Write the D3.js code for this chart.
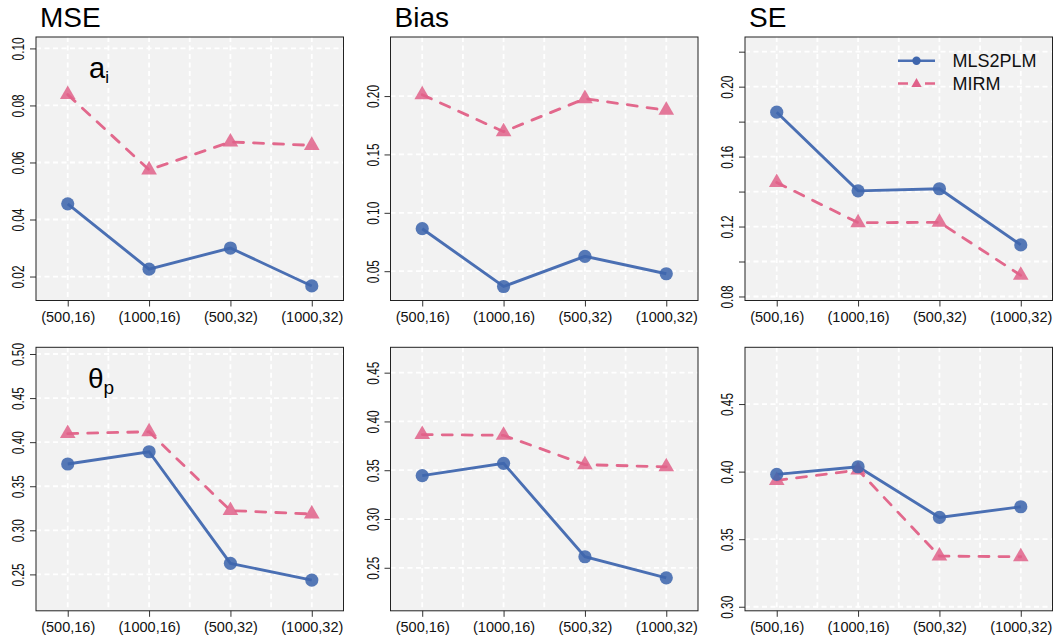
<!DOCTYPE html>
<html>
<head>
<meta charset="utf-8">
<script src="https://cdn.jsdelivr.net/npm/d3@7"></script>
<style>
  body { margin: 0; background: #fff; }
  svg { display: block; font-family: "Liberation Sans", Arial, Helvetica, sans-serif; }
  .tick-label { font-size: 14.5px; fill: #111; }
  .title { font-size: 28px; fill: #000; }
</style>
</head>
<body>
<div id="wrapper"></div>
<script>
// 1. data
const categories = ["(500,16)", "(1000,16)", "(500,32)", "(1000,32)"];
const seriesNames = ["MLS2PLM", "MIRM"];

// item discrimination a_i
const mseA_mls = [0.0455, 0.0226, 0.0300, 0.0167];
const mseA_mirm = [0.0838, 0.0574, 0.0672, 0.0660];
const biasA_mls = [0.0864, 0.0369, 0.0627, 0.0478];
const biasA_mirm = [0.2012, 0.1695, 0.1978, 0.1878];
const seA_mls = [0.1854, 0.1404, 0.1416, 0.1095];
const seA_mirm = [0.1452, 0.1222, 0.1224, 0.0921];

// person ability theta_p
const mseT_mls = [0.3752, 0.3891, 0.2625, 0.2435];
const mseT_mirm = [0.4097, 0.4118, 0.3224, 0.3185];
const biasT_mls = [0.3444, 0.3571, 0.2613, 0.2397];
const biasT_mirm = [0.3865, 0.3858, 0.3557, 0.3535];
const seT_mls = [0.3980, 0.4036, 0.3661, 0.3740];
const seT_mirm = [0.3935, 0.4012, 0.3375, 0.3370];

// y ticks (all get grid lines) and the ones that carry a label
const mseA_ticks = [0.02, 0.04, 0.06, 0.08, 0.10];
const biasA_ticks = [0.05, 0.10, 0.15, 0.20];
const seA_ticks = [0.08, 0.10, 0.12, 0.14, 0.16, 0.18, 0.20, 0.22];
const seA_labels = [0.08, 0.12, 0.16, 0.20];
const mseT_ticks = [0.25, 0.30, 0.35, 0.40, 0.45, 0.50];
const biasT_ticks = [0.25, 0.30, 0.35, 0.40, 0.45];
const seT_ticks = [0.30, 0.35, 0.40, 0.45];

const panels = [
  { row: 0, col: 0, title: "MSE", mls: mseA_mls, mirm: mseA_mirm, domain: [0.0116, 0.1040], ticks: mseA_ticks },
  { row: 0, col: 1, title: "Bias", mls: biasA_mls, mirm: biasA_mirm, domain: [0.0249, 0.2506], ticks: biasA_ticks },
  { row: 0, col: 2, title: "SE", mls: seA_mls, mirm: seA_mirm, domain: [0.0777, 0.2284], ticks: seA_ticks, labels: seA_labels, legend: true },
  { row: 1, col: 0, mls: mseT_mls, mirm: mseT_mirm, domain: [0.2087, 0.5076], ticks: mseT_ticks },
  { row: 1, col: 1, mls: biasT_mls, mirm: biasT_mirm, domain: [0.2059, 0.4760], ticks: biasT_ticks },
  { row: 1, col: 2, mls: seT_mls, mirm: seT_mirm, domain: [0.2970, 0.4920], ticks: seT_ticks },
];

// 2. dimensions
const dimensions = {
  width: 1061,
  height: 641,
  panelWidth: 307.5,
  panelHeight: 263.5,
  colStep: 354.5,
  left0: 36,
  tops: [37, 347.3],
};

const blue = "#4a6fb3";
const pink = "#e2688c";

// 3. draw canvas
const svg = d3.select("#wrapper").append("svg")
  .attr("width", dimensions.width)
  .attr("height", dimensions.height);

// R-style pch 17 triangle centred on its circumcentre
const trianglePath = (cx, cy, s) => {
  const r = 1.5551 * s, xc = 1.3468 * s, yc = 0.7776 * s;
  return `M${cx},${cy - r}L${cx + xc},${cy + yc}L${cx - xc},${cy + yc}Z`;
};

panels.forEach(p => {
  const left = dimensions.left0 + p.col * dimensions.colStep;
  const top = dimensions.tops[p.row];
  const w = dimensions.panelWidth, h = dimensions.panelHeight;

  const g = svg.append("g").attr("transform", `translate(${left},${top})`);

  // 4. scales
  const x = d3.scaleLinear().domain([0.61, 4.39]).range([0, w]);
  const y = d3.scaleLinear().domain(p.domain).range([h, 0]);

  g.append("rect")
    .attr("width", w).attr("height", h)
    .attr("fill", "#f2f2f2");

  // grid
  g.selectAll(".vgrid")
    .data(d3.range(1, 4.01, 0.5))
    .enter().append("line")
    .attr("x1", d => x(d)).attr("x2", d => x(d))
    .attr("y1", 0).attr("y2", h)
    .attr("stroke", "#fff").attr("stroke-width", 1.8)
    .attr("stroke-dasharray", "5,3.5");

  g.selectAll(".hgrid")
    .data(p.ticks)
    .enter().append("line")
    .attr("x1", 0).attr("x2", w)
    .attr("y1", d => y(d)).attr("y2", d => y(d))
    .attr("stroke", "#fff").attr("stroke-width", 1.8)
    .attr("stroke-dasharray", "5,3.5");

  // axes
  const xAxis = d3.axisBottom(x)
    .tickValues([1, 2, 3, 4])
    .tickSize(6)
    .tickPadding(4)
    .tickFormat(d => categories[d - 1]);
  const xg = g.append("g").attr("transform", `translate(0,${h})`).call(xAxis);
  xg.select(".domain").remove();
  xg.selectAll(".tick line").attr("stroke", "#333");
  xg.selectAll(".tick text")
    .attr("class", "tick-label")
    .attr("font-family", null).attr("font-size", null)
    .attr("dy", null).attr("y", 21);

  const labelSet = p.labels || p.ticks;
  const yAxis = d3.axisLeft(y)
    .tickValues(p.ticks)
    .tickSize(6)
    .tickFormat(d => labelSet.some(v => Math.abs(v - d) < 1e-9) ? d3.format(".2f")(d) : "");
  const yg = g.append("g").call(yAxis);
  yg.select(".domain").remove();
  yg.selectAll(".tick line").attr("stroke", "#333");
  yg.selectAll(".tick text")
    .attr("font-family", null).attr("font-size", null)
    .attr("class", "tick-label")
    .attr("x", null).attr("dy", null)
    .attr("text-anchor", "middle")
    .attr("transform", "translate(-12,0) rotate(-90) scale(0.72,1)")
    .style("font-size", "16.5px");

  // frame
  g.append("rect")
    .attr("width", w).attr("height", h)
    .attr("fill", "none")
    .attr("stroke", "#222").attr("stroke-width", 1);

  // 5. draw data
  const line = d3.line().x((d, i) => x(i + 1)).y(d => y(d));

  g.append("path")
    .attr("d", line(p.mirm))
    .attr("fill", "none")
    .attr("stroke", pink).attr("stroke-width", 2.8)
    .attr("stroke-linecap", "round")
    .attr("stroke-dasharray", "10,10");

  g.append("path")
    .attr("d", line(p.mls))
    .attr("fill", "none")
    .attr("stroke", blue).attr("stroke-width", 2.9);

  g.selectAll(".tri")
    .data(p.mirm)
    .enter().append("path")
    .attr("d", (d, i) => trianglePath(x(i + 1), y(d), 5.8))
    .attr("fill", "#e0618a").attr("fill-opacity", 0.85);

  g.selectAll(".dot")
    .data(p.mls)
    .enter().append("circle")
    .attr("cx", (d, i) => x(i + 1))
    .attr("cy", d => y(d))
    .attr("r", 6.6)
    .attr("fill", "#3f66ad").attr("fill-opacity", 0.88);

  // 6. peripherals
  if (p.title) {
    svg.append("text")
      .attr("class", "title")
      .attr("x", left + 4).attr("y", 27)
      .text(p.title);
  }

  if (p.legend) {
    const lg = svg.append("g");
    const lx0 = 898, lx1 = 935, lmid = (lx0 + lx1) / 2;
    const rows = [60.7, 83.5];
    lg.append("line")
      .attr("x1", lx0).attr("x2", lx1).attr("y1", rows[0]).attr("y2", rows[0])
      .attr("stroke", blue).attr("stroke-width", 2.6);
    lg.append("circle")
      .attr("cx", lmid).attr("cy", rows[0]).attr("r", 4.2)
      .attr("fill", "#3f66ad");
    lg.append("line")
      .attr("x1", lx0).attr("x2", lx1).attr("y1", rows[1]).attr("y2", rows[1])
      .attr("stroke", pink).attr("stroke-width", 2.6)
      .attr("stroke-dasharray", "10,17,10");
    lg.append("path")
      .attr("d", trianglePath(lmid, rows[1] + 0.5, 3.8))
      .attr("fill", "#e0618a");
    lg.selectAll(".legend-text")
      .data(seriesNames)
      .enter().append("text")
      .attr("x", 952.5)
      .attr("y", (d, i) => rows[i] + 6.5)
      .style("font-size", "18px")
      .attr("fill", "#111")
      .text(d => d);
  }
});

// parameter annotations
const ann1 = svg.append("text").attr("x", 89).attr("y", 78).style("font-size", "29px");
ann1.append("tspan").text("a");
ann1.append("tspan").attr("dy", 5).style("font-size", "17px").text("i");

const ann2 = svg.append("text").attr("x", 88).attr("y", 388).style("font-size", "28px");
ann2.append("tspan").text("θ");
ann2.append("tspan").attr("dy", 6).style("font-size", "19px").text("p");
</script>
</body>
</html>
